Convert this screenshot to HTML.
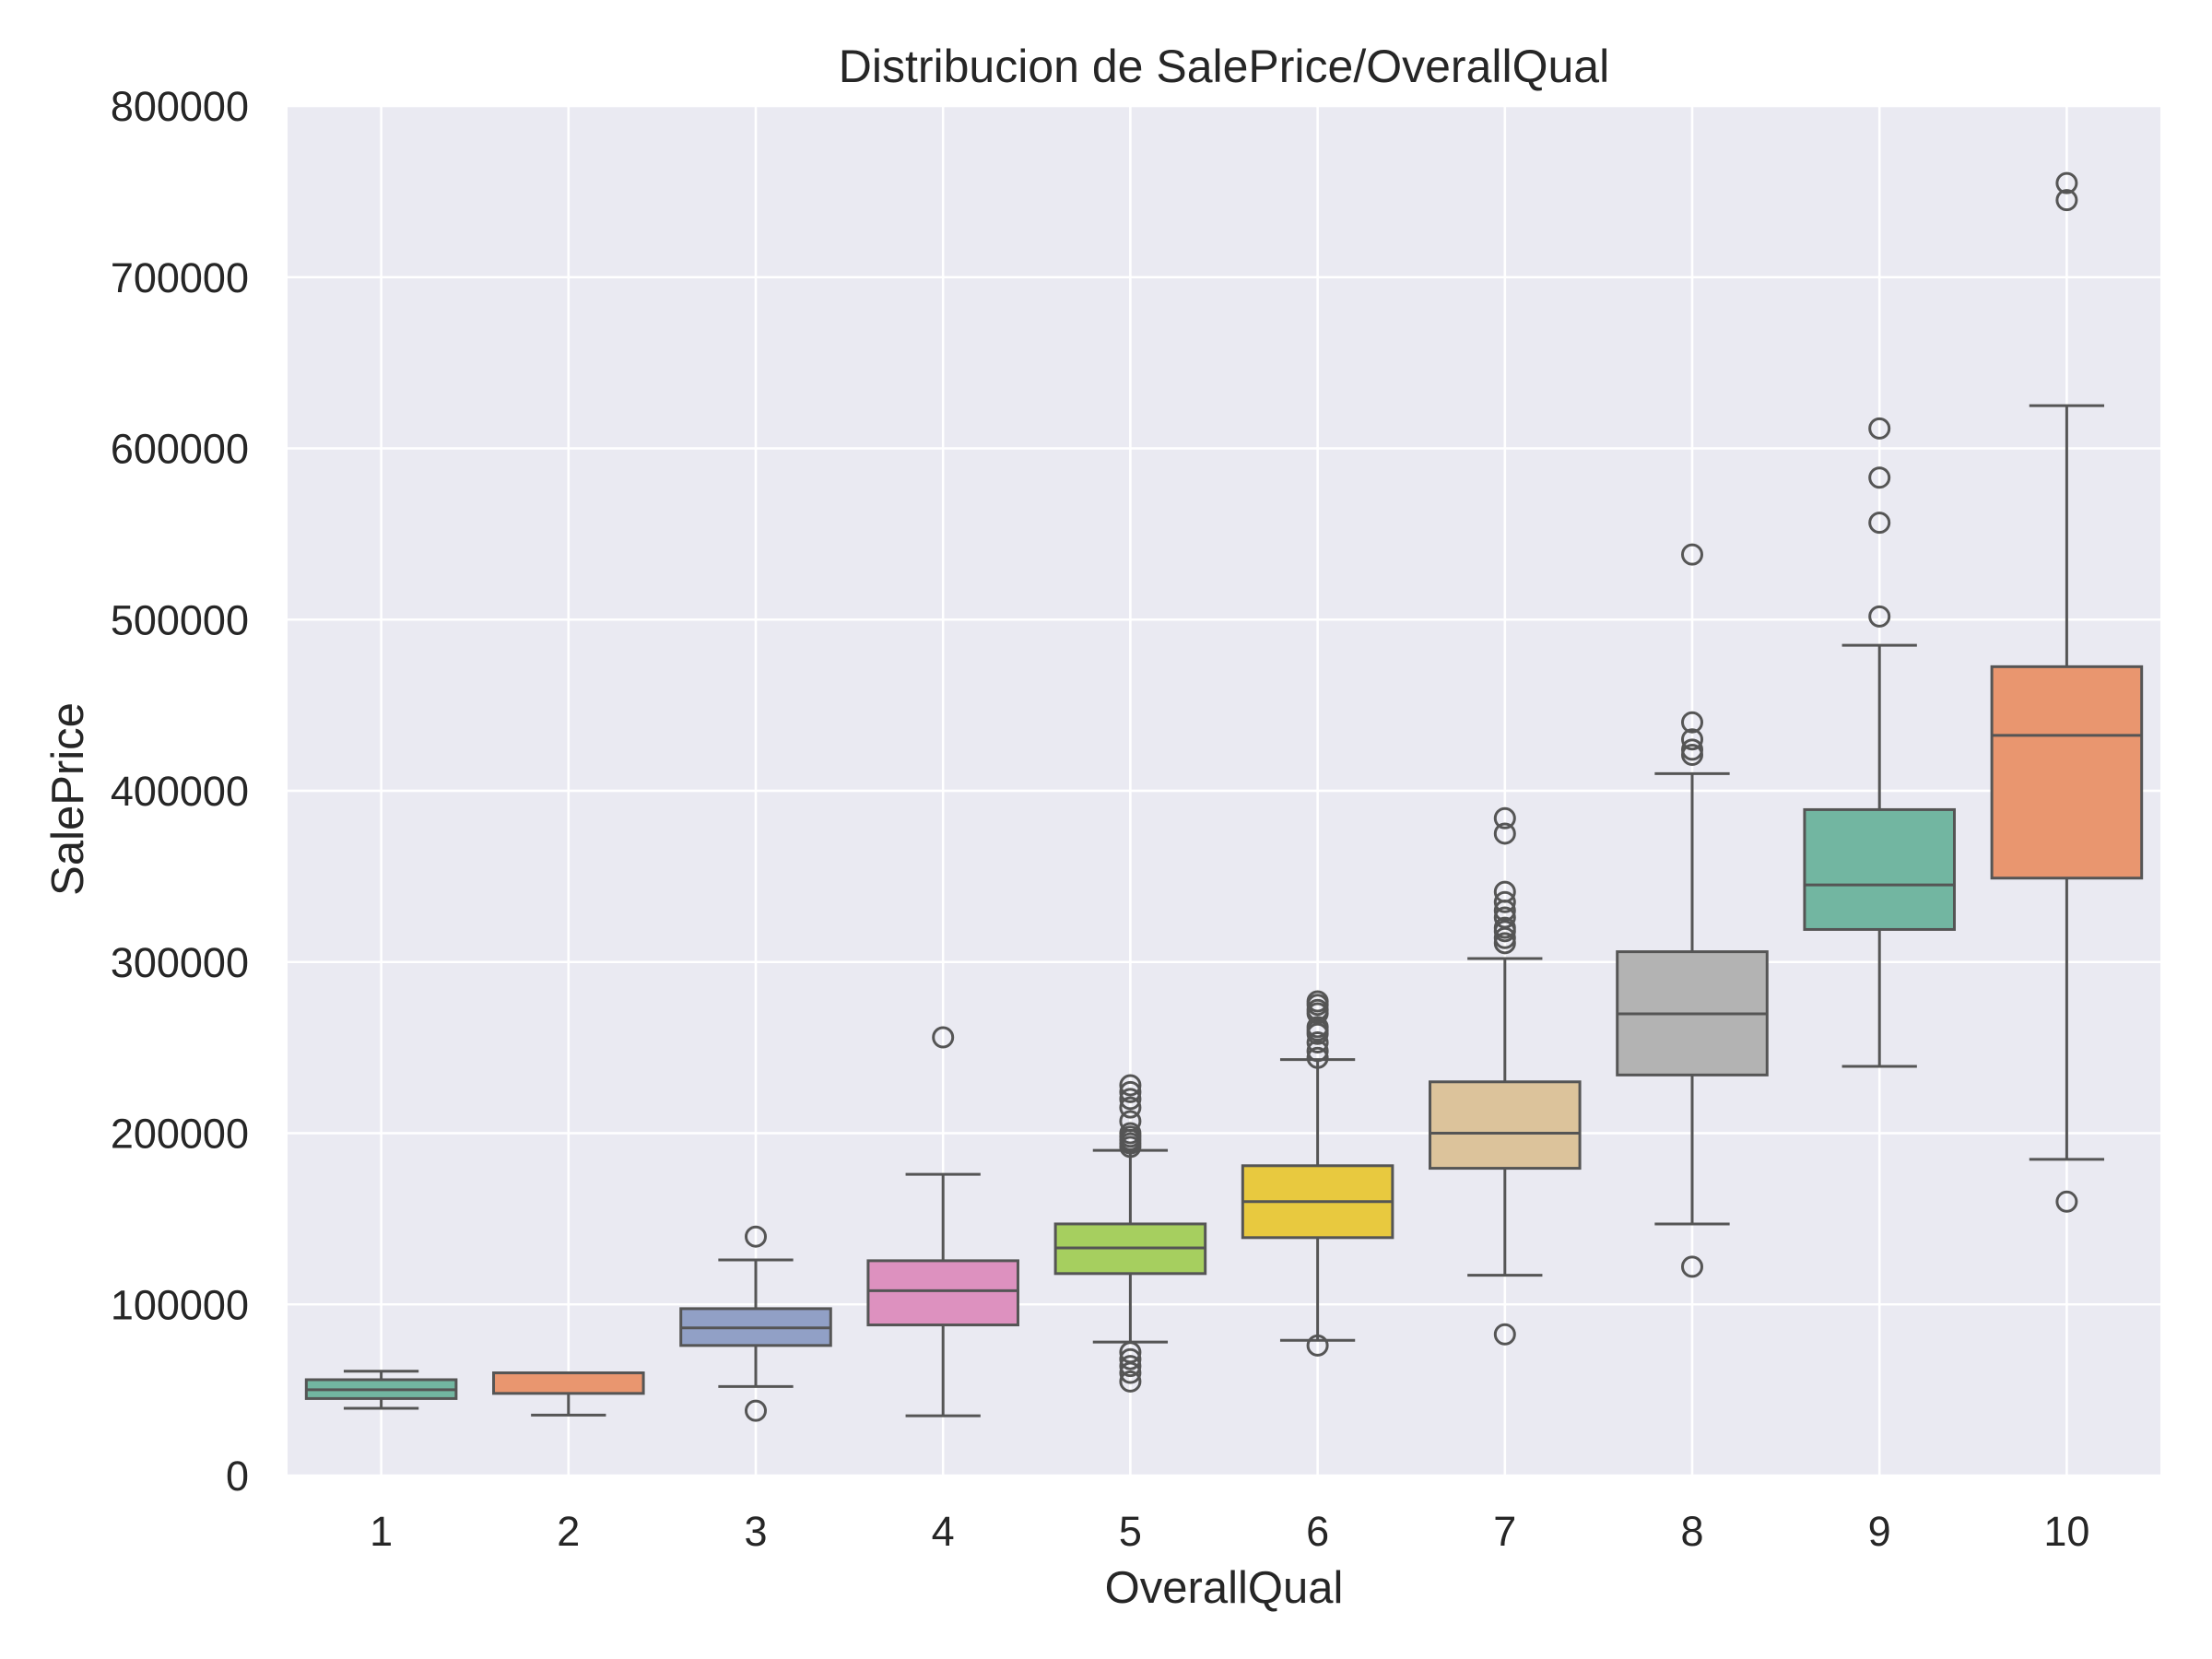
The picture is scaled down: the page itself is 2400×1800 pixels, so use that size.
<!DOCTYPE html>
<html><head><meta charset="utf-8"><style>
html,body{margin:0;padding:0;background:#fff;}
svg{display:block;font-family:"Liberation Sans",Arial,sans-serif;}
</style></head><body>
<svg id="chart" width="2400" height="1800" viewBox="0 0 2400 1800" xmlns="http://www.w3.org/2000/svg">
<rect width="2400" height="1800" fill="#ffffff"/>
<rect x="312" y="115" width="2032" height="1486" fill="#eaeaf2"/>
<g id="grid"></g>
<g id="boxes"></g>
<g id="ticks" fill="#262626" font-size="45"></g>
<text x="1328" y="89" text-anchor="middle" font-size="50" fill="#262626">Distribucion de SalePrice/OverallQual</text>
<text x="1328" y="1739" text-anchor="middle" font-size="49" fill="#262626">OverallQual</text>
<text transform="translate(90,867) rotate(-90)" text-anchor="middle" font-size="49" fill="#262626">SalePrice</text>
</svg>
<script>
const categories = ["1","2","3","4","5","6","7","8","9","10"];
const q1 = [45000,48000,76000,88000,118000,139000,179500,234000,319000,349000];
const medians = [50150,60000,86250,108000,133000,160000,200000,269750,345000,432390];
const q3 = [56000,60000,97500,125500,147000,181000,230000,306000,389000,472500];
const whiskerLow = [39300,35311,52000,34900,78000,79000,117000,147000,239000,184750];
const whiskerHigh = [61000,60000,126000,176000,190000,243000,302000,410000,485000,625000];
const outliers = [
 [],
 [],
 [37900,139600],
 [256000],
 [55000,60000,64000,68000,72000,192000,194000,196000,198000,200000,207000,215000,220000,224000,228000],
 [76000,244000,248000,253000,258000,260000,262000,270000,272000,275000,277000],
 [82500,311000,314000,318000,320000,326000,330000,335000,341000,375000,384000],
 [122000,421000,424000,430000,440000,538000],
 [501837,556581,582933,611657],
 [160000,745000,755000]
];
const yTicks = [0,100000,200000,300000,400000,500000,600000,700000,800000];
const colors = ["#72b6a1","#e9966f","#91a0c6","#dd91bf","#a6cf5f","#e8c93f","#dcc39b","#b3b3b3","#72b6a1","#e9966f"];

const NS="http://www.w3.org/2000/svg";
const X0=312,X1=2344,Y0=1601,Y1=115,YMAX=800000;
const band=(X1-X0)/categories.length;
function xc(i){return X0+band*(i+0.5);}
function y(v){return Y0-(v/YMAX)*(Y0-Y1);}
function mk(tag,attrs,parent){const e=document.createElementNS(NS,tag);for(const k in attrs)e.setAttribute(k,attrs[k]);parent.appendChild(e);return e;}
const grid=document.getElementById('grid'),boxes=document.getElementById('boxes'),ticks=document.getElementById('ticks');
yTicks.forEach(t=>{
 const l=mk('line',{x1:X0,x2:X1,y1:y(t),y2:y(t),stroke:'#fff','stroke-width':2.6},grid);
 
 
 const tx=mk('text',{x:270,y:y(t)+16,'text-anchor':'end'},ticks);
 tx.textContent=t;
 
 
});
categories.forEach((c,i)=>{
 const l=mk('line',{x1:xc(i),x2:xc(i),y1:Y1,y2:Y0,stroke:'#fff','stroke-width':2.6},grid);
 
 
 const tx=mk('text',{x:xc(i),y:1677,'text-anchor':'middle'},ticks);
 tx.textContent=c;
 
 
});
const LC='#555555',LW=3;
categories.forEach((c,i)=>{
 const g=mk('g',{},boxes);
 
 
 const cx=xc(i),w=band*0.8,cw=w*0.5;
 mk('line',{x1:cx,x2:cx,y1:y(q3[i]),y2:y(whiskerHigh[i]),stroke:LC,'stroke-width':LW},g);
 mk('line',{x1:cx,x2:cx,y1:y(q1[i]),y2:y(whiskerLow[i]),stroke:LC,'stroke-width':LW},g);
 mk('line',{x1:cx-cw/2,x2:cx+cw/2,y1:y(whiskerHigh[i]),y2:y(whiskerHigh[i]),stroke:LC,'stroke-width':LW},g);
 mk('line',{x1:cx-cw/2,x2:cx+cw/2,y1:y(whiskerLow[i]),y2:y(whiskerLow[i]),stroke:LC,'stroke-width':LW},g);
 mk('rect',{x:cx-w/2,y:y(q3[i]),width:w,height:Math.max(0,y(q1[i])-y(q3[i])),fill:colors[i],stroke:LC,'stroke-width':LW},g);
 mk('line',{x1:cx-w/2,x2:cx+w/2,y1:y(medians[i]),y2:y(medians[i]),stroke:LC,'stroke-width':LW},g);
 outliers[i].forEach(v=>{
  const o=mk('circle',{cx:cx,cy:y(v),r:10.5,fill:'none',stroke:LC,'stroke-width':LW},g);
  
  
 });
});
</script>
</body></html>
